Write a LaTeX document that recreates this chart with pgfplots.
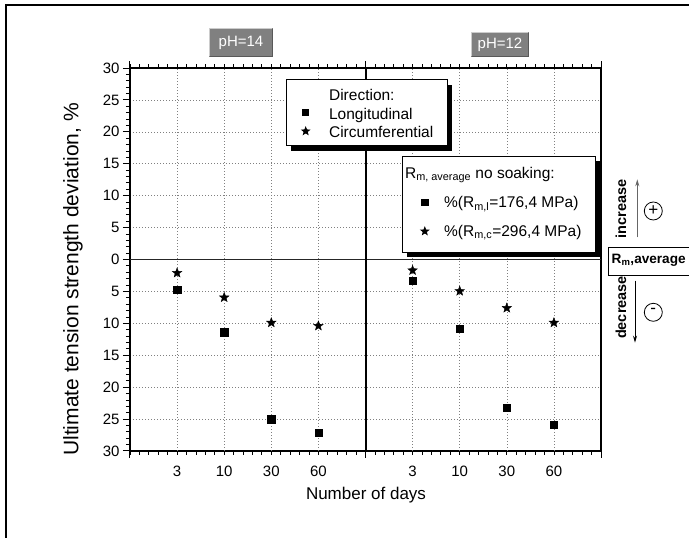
\documentclass[border=0pt]{standalone}
\usepackage{fontspec}
\setmainfont{Liberation Sans}
\usepackage{pgfplots}
\pgfplotsset{compat=1.18}
\usetikzlibrary{shadows,arrows.meta}

\pgfdeclareplotmark{fstar}{%
  \pgfpathmoveto{\pgfpointpolar{90}{\pgfplotmarksize}}%
  \pgfpathlineto{\pgfpointpolar{126}{0.42\pgfplotmarksize}}%
  \pgfpathlineto{\pgfpointpolar{162}{\pgfplotmarksize}}%
  \pgfpathlineto{\pgfpointpolar{198}{0.42\pgfplotmarksize}}%
  \pgfpathlineto{\pgfpointpolar{234}{\pgfplotmarksize}}%
  \pgfpathlineto{\pgfpointpolar{270}{0.42\pgfplotmarksize}}%
  \pgfpathlineto{\pgfpointpolar{306}{\pgfplotmarksize}}%
  \pgfpathlineto{\pgfpointpolar{342}{0.42\pgfplotmarksize}}%
  \pgfpathlineto{\pgfpointpolar{18}{\pgfplotmarksize}}%
  \pgfpathlineto{\pgfpointpolar{54}{0.42\pgfplotmarksize}}%
  \pgfpathclose
  \pgfusepathqfillstroke
}

\definecolor{phgray}{RGB}{128,128,128}

\pgfplotstableread{
x y
1 -4.75
2 -11.4
3 -25.0
4 -27.1
6 -3.3
7 -10.8
8 -23.25
9 -25.9
}\longit

\pgfplotstableread{
x y
1 -2.1
2 -5.95
3 -9.9
4 -10.4
6 -1.7
7 -4.95
8 -7.6
9 -9.9
}\circum

\pgfplotsset{
  mylegimg/.style={legend image code/.code={%
    \path (0pt,0pt) (16pt,0pt);
    \draw[##1, draw=none, mark options={draw=black, fill=black}] plot coordinates {(8pt,0pt)};}},
}

\begin{document}
\begin{tikzpicture}[x=1pt,y=1pt]
\useasboundingbox (0,0) rectangle (689,538);
\fill[white] (0,0) rectangle (689,538);
\draw[line width=2pt] (5.5,-3) -- (5.5,532.5) -- (695,532.5);

\begin{axis}[
  at={(130pt,87pt)}, anchor=south west,
  scale only axis, width=471pt, height=383pt,
  xmin=0, xmax=10, ymin=-30, ymax=30,
  xtick={0,5,10}, xticklabels={,,},
  minor xtick={0,0.2,...,10},
  extra x ticks={1,2,3,4,6,7,8,9},
  extra x tick labels={3,10,30,60,3,10,30,60},
  extra x tick style={grid=major, major tick length=0pt, tick label style={yshift=-11pt}},
  ytick={-30,-25,...,30},
  minor y tick num=4,
  yticklabel={\pgfmathparse{int(abs(\tick))}\pgfmathresult},
  ymajorgrids,
  grid style={gray, dash pattern=on 1pt off 2pt, line width=0.6pt},
  tick align=outside,
  xtick pos=both, ytick pos=left,
  axis line style={line width=1.2pt},
  major tick style={line width=1pt, black},
  minor tick style={line width=0.8pt, black},
  major tick length=7pt, minor tick length=4pt,
  tick label style={font=\fontsize{15}{17}\selectfont},
  legend style={at={(rel axis cs:0.331,0.971)}, anchor=north west,
    draw=black, line width=0.8pt, fill=white,
    font=\fontsize{15.5}{17}\selectfont,
    inner xsep=11pt, inner ysep=5.9pt,
    nodes={inner sep=0pt, text depth=},
    column sep=15pt, row sep=1.9pt,
    drop shadow={shadow xshift=5pt, shadow yshift=-5pt, fill=black, draw=none, opacity=1}},
  legend cell align=left,
  mylegimg,
]
\draw[line width=1.2pt, black!85] (axis cs:0,0) -- (axis cs:10,0);
\draw[line width=2pt] (axis cs:5,-30) -- (axis cs:5,30);

\addlegendimage{empty legend}
\addlegendentry{\rule[-1.8pt]{0pt}{16.8pt}\smash{Direction:}}
\addlegendimage{only marks, mark=square*, mark size=3.1pt, black}
\addlegendentry{\rule[-1.8pt]{0pt}{16.8pt}\smash{Longitudinal}}
\addlegendimage{only marks, mark=fstar, mark size=4pt, black}
\addlegendentry{\rule[-1.8pt]{0pt}{16.8pt}\smash{Circumferential}\hspace*{3pt}}

\addplot[forget plot, only marks, mark=square*, mark size=3.65pt, black] table[x=x,y=y] {\longit};
\addplot[forget plot, only marks, mark=fstar, mark size=5pt, black] table[x=x,y=y] {\circum};
\end{axis}

\begin{axis}[
  at={(130pt,87pt)}, anchor=south west,
  scale only axis, width=471pt, height=383pt,
  xmin=0, xmax=10, ymin=-30, ymax=30,
  hide axis,
  legend style={at={(rel axis cs:0.5775,0.770)}, anchor=north west,
    draw=black, line width=0.8pt, fill=white,
    font=\fontsize{15.5}{17}\selectfont,
    inner xsep=14pt, inner ysep=11.7pt,
    nodes={inner sep=0pt, text depth=},
    column sep=11pt, row sep=10pt,
    drop shadow={shadow xshift=5pt, shadow yshift=-5pt, fill=black, draw=none, opacity=1}},
  legend cell align=left,
  mylegimg,
]
\addlegendimage{empty legend}
\addlegendentry{\hspace*{-39pt}\rule[-4pt]{0pt}{14.6pt}\smash{R\textsubscript{m, average} no soaking:}}
\addlegendimage{only marks, mark=square*, mark size=3.3pt, black}
\addlegendentry{\rule[-4pt]{0pt}{19pt}\smash{\%(R\textsubscript{m,l}=176,4 MPa)}}
\addlegendimage{only marks, mark=fstar, mark size=4pt, black}
\addlegendentry{\rule[-4pt]{0pt}{19pt}\smash{\%(R\textsubscript{m,c}=296,4 MPa)}}
\end{axis}

% axis labels
\node[anchor=base, font=\fontsize{17}{19}\selectfont] at (366,38) {Number of days};
\node[rotate=90, font=\fontsize{21}{23}\selectfont] at (73,258.5) {Ultimate tension strength deviation, \%};

% pH boxes
\fill[phgray] (209,481) rectangle (273,510);
\draw[line width=1.2pt, black!20] (209.6,481.6) -- (209.6,509.4) -- (272.4,509.4);
\draw[line width=1.2pt, black!65] (209.6,481.6) -- (272.4,481.6) -- (272.4,509.4);
\node[text=white, font=\fontsize{15}{17}\selectfont] at (241,495.5) {pH=14};
\fill[phgray] (471,481) rectangle (529,506);
\draw[line width=1.2pt, black!20] (471.6,481.6) -- (471.6,505.4) -- (528.4,505.4);
\draw[line width=1.2pt, black!65] (471.6,481.6) -- (528.4,481.6) -- (528.4,505.4);
\node[text=white, font=\fontsize{15}{17}\selectfont] at (500,493.5) {pH=12};

% right annotations
\draw[line width=0.8pt] (608.3,290.7) rectangle (720,263);
\node[anchor=base west, inner sep=0pt, font=\bfseries\fontsize{13.6}{16}\selectfont] at (611.5,274.5) {R\textsubscript{m},average};
\node[rotate=90, font=\bfseries\fontsize{14.5}{16}\selectfont] at (621,329) {increase};
\node[rotate=90, font=\bfseries\fontsize{14.5}{16}\selectfont] at (621,230.5) {decrease};
\draw[-{Stealth[length=7pt,width=4pt]}, black!60, line width=1pt] (637.3,300.7) -- (637.3,358.7);
\draw[-{Stealth[length=7pt,width=4pt]}, black, line width=1pt] (635,257.3) -- (635,195.3);
\draw[line width=0.8pt] (653.3,327) circle (9);
\node[font=\fontsize{17}{19}\selectfont] at (653.3,327.5) {+};
\draw[line width=0.8pt] (653.3,225.7) circle (9);
\node[font=\fontsize{17}{19}\selectfont] at (653.3,226.7) {-};
\end{tikzpicture}
\end{document}
